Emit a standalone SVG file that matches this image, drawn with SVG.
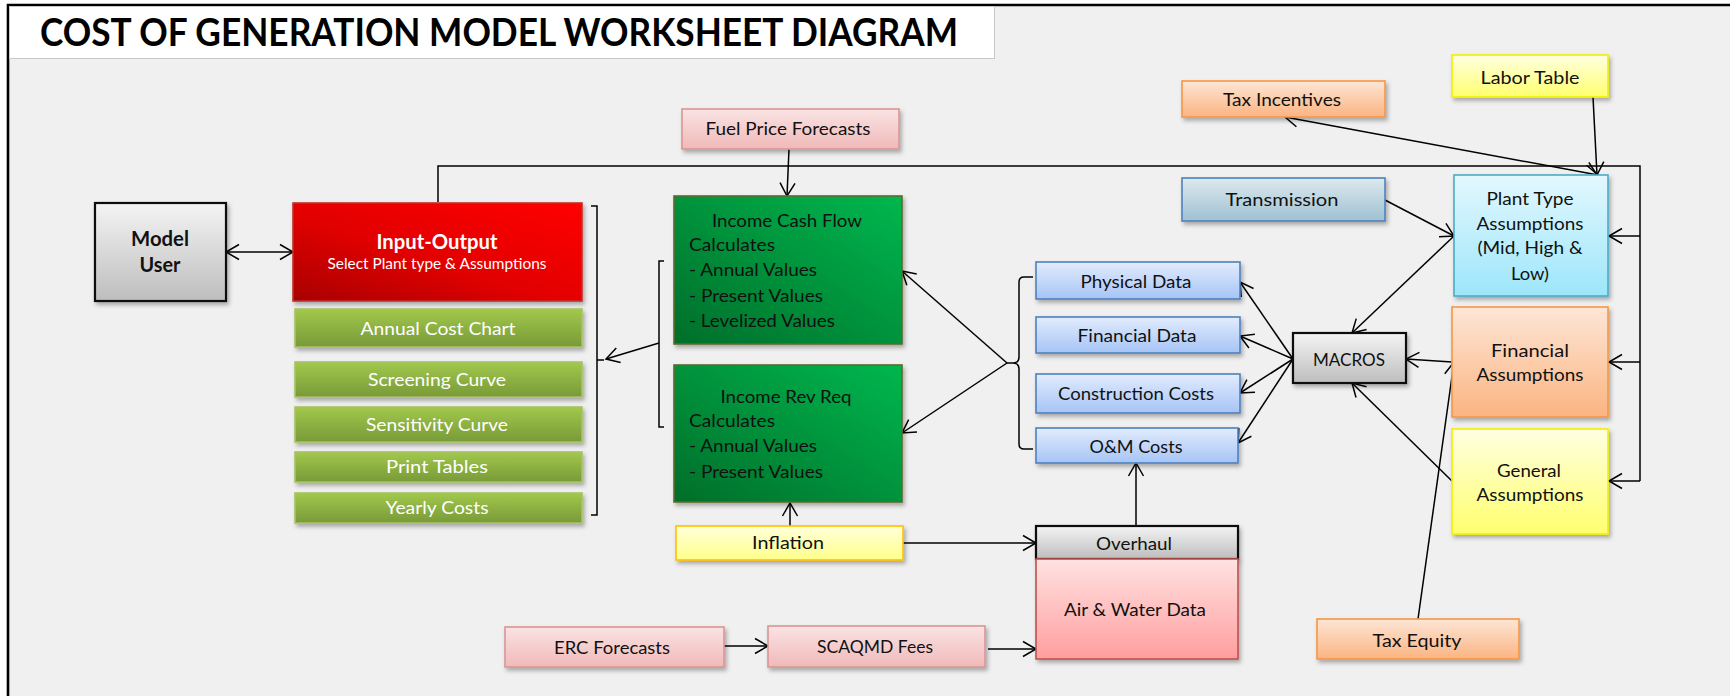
<svg xmlns="http://www.w3.org/2000/svg" width="1730" height="696" viewBox="0 0 1730 696">
  <style>
    .t { font-family: Lato, "Open Sans", "Liberation Sans", sans-serif; font-size: 18px; fill: #111; text-anchor: middle; }
    .l { text-anchor: start; }
    .b { font-weight: bold; font-size: 20px; }
    .w { fill: #ffffff; }
    .box { filter: url(#shadow); stroke-width: 1.6; }
    .gray { fill: url(#gGray); stroke: #111; stroke-width: 2.2; }
    .red { fill: url(#gRed); stroke: #c0302a; }
    .olive { fill: url(#gOlive); stroke: #a6c266; }
    .dgreen { fill: url(#gDGreen); stroke: #5a6b2c; }
    .pink { fill: url(#gPink); stroke: #d99694; }
    .yel { fill: url(#gYel); stroke: #ffc000; }
    .lyel { fill: url(#gLYel); stroke: #f2f000; }
    .blue { fill: url(#gBlue); stroke: #4f81bd; }
    .teal { fill: url(#gTeal); stroke: #4f81bd; }
    .cyan { fill: url(#gCyan); stroke: #4bacc6; }
    .orange { fill: url(#gOrange); stroke: #f79646; }
    .rose { fill: url(#gRose); stroke: #c0504d; }
  </style>
  <defs>
    <filter id="shadow" x="-10%" y="-10%" width="125%" height="135%">
      <feDropShadow dx="2" dy="3" stdDeviation="2" flood-color="#000" flood-opacity="0.3"/>
    </filter>
    <linearGradient id="gGray" x1="0" y1="0" x2="0" y2="1">
      <stop offset="0" stop-color="#f4f4f4"/><stop offset="1" stop-color="#bdbdbd"/>
    </linearGradient>
    <linearGradient id="gRed" x1="1" y1="0" x2="0" y2="1">
      <stop offset="0" stop-color="#ff0000"/><stop offset="0.55" stop-color="#e20000"/><stop offset="1" stop-color="#a80000"/>
    </linearGradient>
    <linearGradient id="gOlive" x1="0" y1="0" x2="0" y2="1">
      <stop offset="0" stop-color="#a2c84c"/><stop offset="1" stop-color="#789a38"/>
    </linearGradient>
    <linearGradient id="gDGreen" x1="1" y1="0" x2="0" y2="1">
      <stop offset="0" stop-color="#00b74e"/><stop offset="1" stop-color="#006e2a"/>
    </linearGradient>
    <linearGradient id="gPink" x1="0" y1="0" x2="0" y2="1">
      <stop offset="0" stop-color="#fae3e3"/><stop offset="1" stop-color="#f1b9b9"/>
    </linearGradient>
    <linearGradient id="gYel" x1="0" y1="0" x2="0" y2="1">
      <stop offset="0" stop-color="#ffffda"/><stop offset="1" stop-color="#ffff8a"/>
    </linearGradient>
    <linearGradient id="gLYel" x1="0" y1="0" x2="0" y2="1">
      <stop offset="0" stop-color="#ffffe2"/><stop offset="1" stop-color="#ffff6e"/>
    </linearGradient>
    <linearGradient id="gBlue" x1="0" y1="0" x2="0" y2="1">
      <stop offset="0" stop-color="#e2ecfd"/><stop offset="1" stop-color="#a6c4f6"/>
    </linearGradient>
    <linearGradient id="gTeal" x1="0" y1="0" x2="0" y2="1">
      <stop offset="0" stop-color="#dde9ee"/><stop offset="1" stop-color="#9ec1d2"/>
    </linearGradient>
    <linearGradient id="gCyan" x1="0" y1="0" x2="0" y2="1">
      <stop offset="0" stop-color="#e3f8fe"/><stop offset="1" stop-color="#9de6fb"/>
    </linearGradient>
    <linearGradient id="gOrange" x1="0" y1="0" x2="0" y2="1">
      <stop offset="0" stop-color="#fde6d6"/><stop offset="1" stop-color="#fbb481"/>
    </linearGradient>
    <linearGradient id="gRose" x1="0" y1="0" x2="0" y2="1">
      <stop offset="0" stop-color="#ffe2e2"/><stop offset="1" stop-color="#ff9e9e"/>
    </linearGradient>
    <marker id="arr" viewBox="-14 -9 16 18" refX="0" refY="0" markerWidth="16" markerHeight="18" markerUnits="userSpaceOnUse" orient="auto-start-reverse">
      <path d="M-13,-7.5 L0,0 L-13,7.5" fill="none" stroke="#000" stroke-width="1.5"/>
    </marker>
  </defs>

  <!-- page and frame -->
  <rect x="0" y="0" width="1730" height="696" fill="#ffffff"/>
  <rect x="9" y="6" width="1721" height="690" fill="#f0f0f0"/>
  <path d="M8,696 V5 H1730" fill="none" stroke="#000" stroke-width="2.6"/>

  <g id="title">
    <rect x="9.5" y="6.5" width="985" height="52" fill="#ffffff" stroke="#c8c8c8" stroke-width="1"/>
    <text x="40" y="46" class="t l" style="font-weight:bold;font-size:38px;fill:#000" textLength="918" lengthAdjust="spacingAndGlyphs">COST OF GENERATION MODEL WORKSHEET DIAGRAM</text>
  </g>

  <!-- connectors -->
  <g id="connectors" fill="none" stroke="#000" stroke-width="1.5">
    <path d="M226,252 H293" marker-start="url(#arr)" marker-end="url(#arr)"/>
    <path d="M438,202 V166 H1640 V481"/>
    <path d="M1640,236 H1609" marker-end="url(#arr)"/>
    <path d="M1640,362 H1609" marker-end="url(#arr)"/>
    <path d="M1640,481 H1609" marker-end="url(#arr)"/>
    <path d="M789,149 L787,196" marker-end="url(#arr)"/>
    <path d="M790,526 V503" marker-end="url(#arr)"/>
    <path d="M903,543 H1036" marker-end="url(#arr)"/>
    <path d="M724,646 H768" marker-end="url(#arr)"/>
    <path d="M988,649 H1036" marker-end="url(#arr)"/>
    <path d="M1136,526 V463" marker-end="url(#arr)"/>
    <!-- bracket grouping the output sheets -->
    <path d="M591,206 H597 V515 H591 M597,360 H604"/>
    <!-- bracket grouping the income sheets -->
    <path d="M664,261 H659 V427 H664"/>
    <path d="M659,343 L606,359" marker-end="url(#arr)"/>
    <!-- brace grouping the data sheets -->
    <path d="M1033,277 H1024 Q1019,277 1019,282 V357 Q1019,363 1013,363 H1007 M1013,363 Q1019,363 1019,369 V444 Q1019,449 1024,449 H1033"/>
    <path d="M1007,363 L902,271" marker-end="url(#arr)"/>
    <path d="M1007,363 L902,433" marker-end="url(#arr)"/>
    <!-- macros fan-out -->
    <path d="M1293,359 L1240,282" marker-end="url(#arr)"/>
    <path d="M1293,359 L1240,336" marker-end="url(#arr)"/>
    <path d="M1293,359 L1240,393" marker-end="url(#arr)"/>
    <path d="M1293,359 L1238,443" marker-end="url(#arr)"/>
    <path d="M1454,236 L1352,333" marker-end="url(#arr)"/>
    <path d="M1385,200 L1454,236" marker-end="url(#arr)"/>
    <path d="M1593,97 L1597,175" marker-end="url(#arr)"/>
    <path d="M1285,117 L1598,175" marker-start="url(#arr)" marker-end="url(#arr)"/>
    <path d="M1452,362 L1406,359" marker-end="url(#arr)"/>
    <path d="M1418,619 L1454,362" marker-end="url(#arr)"/>
    <path d="M1454,483 L1352,383" marker-end="url(#arr)"/>
  </g>

  <g id="model-user">
    <rect class="box gray" x="95" y="203" width="131" height="98"/>
    <text class="t b" x="160" y="246" textLength="58" lengthAdjust="spacingAndGlyphs">Model</text>
    <text class="t b" x="160" y="272" textLength="41" lengthAdjust="spacingAndGlyphs">User</text>
  </g>

  <g id="input-output">
    <rect class="box red" x="293" y="203" width="289" height="98"/>
    <text class="t b w" x="437" y="249" textLength="121" lengthAdjust="spacingAndGlyphs">Input-Output</text>
    <text class="t w" x="437" y="269" style="font-size:15px" textLength="219" lengthAdjust="spacingAndGlyphs">Select Plant type &amp; Assumptions</text>
  </g>

  <g id="annual-cost-chart">
    <rect class="box olive" x="295" y="309" width="287" height="38"/>
    <text class="t w" x="438" y="335" textLength="155" lengthAdjust="spacingAndGlyphs">Annual Cost Chart</text>
  </g>
  <g id="screening-curve">
    <rect class="box olive" x="295" y="362" width="287" height="35"/>
    <text class="t w" x="437" y="386" textLength="138" lengthAdjust="spacingAndGlyphs">Screening Curve</text>
  </g>
  <g id="sensitivity-curve">
    <rect class="box olive" x="295" y="407" width="287" height="35"/>
    <text class="t w" x="437" y="431" textLength="142" lengthAdjust="spacingAndGlyphs">Sensitivity Curve</text>
  </g>
  <g id="print-tables">
    <rect class="box olive" x="295" y="452" width="287" height="30"/>
    <text class="t w" x="437" y="473" textLength="102" lengthAdjust="spacingAndGlyphs">Print Tables</text>
  </g>
  <g id="yearly-costs">
    <rect class="box olive" x="295" y="493" width="287" height="30"/>
    <text class="t w" x="437" y="514" textLength="103" lengthAdjust="spacingAndGlyphs">Yearly Costs</text>
  </g>

  <g id="fuel-price-forecasts">
    <rect class="box pink" x="682" y="109" width="217" height="40"/>
    <text class="t" x="788" y="135" textLength="165" lengthAdjust="spacingAndGlyphs">Fuel Price Forecasts</text>
  </g>

  <g id="income-cash-flow">
    <rect class="box dgreen" x="674" y="196" width="228" height="148"/>
    <text class="t" x="787" y="227" textLength="150" lengthAdjust="spacingAndGlyphs">Income Cash Flow</text>
    <text class="t l" x="689" y="251" textLength="86" lengthAdjust="spacingAndGlyphs">Calculates</text>
    <text class="t l" x="689" y="276" textLength="128" lengthAdjust="spacingAndGlyphs">- Annual Values</text>
    <text class="t l" x="689" y="302" textLength="134" lengthAdjust="spacingAndGlyphs">- Present Values</text>
    <text class="t l" x="689" y="327" textLength="146" lengthAdjust="spacingAndGlyphs">- Levelized Values</text>
  </g>

  <g id="income-rev-req">
    <rect class="box dgreen" x="674" y="365" width="228" height="137"/>
    <text class="t" x="786" y="403" textLength="131" lengthAdjust="spacingAndGlyphs">Income Rev Req</text>
    <text class="t l" x="689" y="427" textLength="86" lengthAdjust="spacingAndGlyphs">Calculates</text>
    <text class="t l" x="689" y="452" textLength="128" lengthAdjust="spacingAndGlyphs">- Annual Values</text>
    <text class="t l" x="689" y="478" textLength="134" lengthAdjust="spacingAndGlyphs">- Present Values</text>
  </g>

  <g id="inflation">
    <rect class="box yel" x="676" y="526" width="227" height="34"/>
    <text class="t" x="788" y="549" textLength="72" lengthAdjust="spacingAndGlyphs">Inflation</text>
  </g>

  <g id="erc-forecasts">
    <rect class="box pink" x="505" y="627" width="219" height="40"/>
    <text class="t" x="612" y="654" textLength="116" lengthAdjust="spacingAndGlyphs">ERC Forecasts</text>
  </g>
  <g id="scaqmd-fees">
    <rect class="box pink" x="768" y="626" width="217" height="41"/>
    <text class="t" x="875" y="653" textLength="116" lengthAdjust="spacingAndGlyphs">SCAQMD Fees</text>
  </g>

  <g id="physical-data">
    <rect class="box blue" x="1036" y="262" width="204" height="37"/>
    <text class="t" x="1136" y="288" textLength="111" lengthAdjust="spacingAndGlyphs">Physical Data</text>
  </g>
  <g id="financial-data">
    <rect class="box blue" x="1036" y="317" width="204" height="36"/>
    <text class="t" x="1137" y="342" textLength="119" lengthAdjust="spacingAndGlyphs">Financial Data</text>
  </g>
  <g id="construction-costs">
    <rect class="box blue" x="1036" y="374" width="204" height="39"/>
    <text class="t" x="1136" y="400" textLength="156" lengthAdjust="spacingAndGlyphs">Construction Costs</text>
  </g>
  <g id="om-costs">
    <rect class="box blue" x="1036" y="428" width="202" height="35"/>
    <text class="t" x="1136" y="453" textLength="93" lengthAdjust="spacingAndGlyphs">O&amp;M Costs</text>
  </g>

  <g id="overhaul">
    <rect class="box gray" x="1036" y="526" width="202" height="33"/>
    <text class="t" x="1134" y="550" textLength="76" lengthAdjust="spacingAndGlyphs">Overhaul</text>
  </g>
  <g id="air-water-data">
    <rect class="box rose" x="1036" y="559" width="202" height="100"/>
    <text class="t" x="1135" y="616" textLength="142" lengthAdjust="spacingAndGlyphs">Air &amp; Water Data</text>
  </g>

  <g id="macros">
    <rect class="box gray" x="1293" y="333" width="113" height="50"/>
    <text class="t" x="1349" y="366" textLength="72" lengthAdjust="spacingAndGlyphs">MACROS</text>
  </g>

  <g id="tax-incentives">
    <rect class="box orange" x="1182" y="81" width="203" height="36"/>
    <text class="t" x="1282" y="106" textLength="118" lengthAdjust="spacingAndGlyphs">Tax Incentives</text>
  </g>
  <g id="labor-table">
    <rect class="box lyel" x="1452" y="55" width="156" height="42"/>
    <text class="t" x="1530" y="84" textLength="99" lengthAdjust="spacingAndGlyphs">Labor Table</text>
  </g>
  <g id="transmission">
    <rect class="box teal" x="1182" y="178" width="203" height="43"/>
    <text class="t" x="1282" y="206" textLength="113" lengthAdjust="spacingAndGlyphs">Transmission</text>
  </g>

  <g id="plant-type-assumptions">
    <rect class="box cyan" x="1454" y="175" width="154" height="121"/>
    <text class="t" x="1530" y="205" textLength="87" lengthAdjust="spacingAndGlyphs">Plant Type</text>
    <text class="t" x="1530" y="230" textLength="107" lengthAdjust="spacingAndGlyphs">Assumptions</text>
    <text class="t" x="1530" y="254" textLength="105" lengthAdjust="spacingAndGlyphs">(Mid, High &amp;</text>
    <text class="t" x="1530" y="280" textLength="38" lengthAdjust="spacingAndGlyphs">Low)</text>
  </g>

  <g id="financial-assumptions">
    <rect class="box orange" x="1452" y="307" width="156" height="110"/>
    <text class="t" x="1530" y="357" textLength="78" lengthAdjust="spacingAndGlyphs">Financial</text>
    <text class="t" x="1530" y="381" textLength="107" lengthAdjust="spacingAndGlyphs">Assumptions</text>
  </g>

  <g id="general-assumptions">
    <rect class="box lyel" x="1452" y="429" width="156" height="105"/>
    <text class="t" x="1529" y="477" textLength="64" lengthAdjust="spacingAndGlyphs">General</text>
    <text class="t" x="1530" y="501" textLength="107" lengthAdjust="spacingAndGlyphs">Assumptions</text>
  </g>

  <g id="tax-equity">
    <rect class="box orange" x="1317" y="619" width="202" height="40"/>
    <text class="t" x="1417" y="647" textLength="89" lengthAdjust="spacingAndGlyphs">Tax Equity</text>
  </g>
</svg>
